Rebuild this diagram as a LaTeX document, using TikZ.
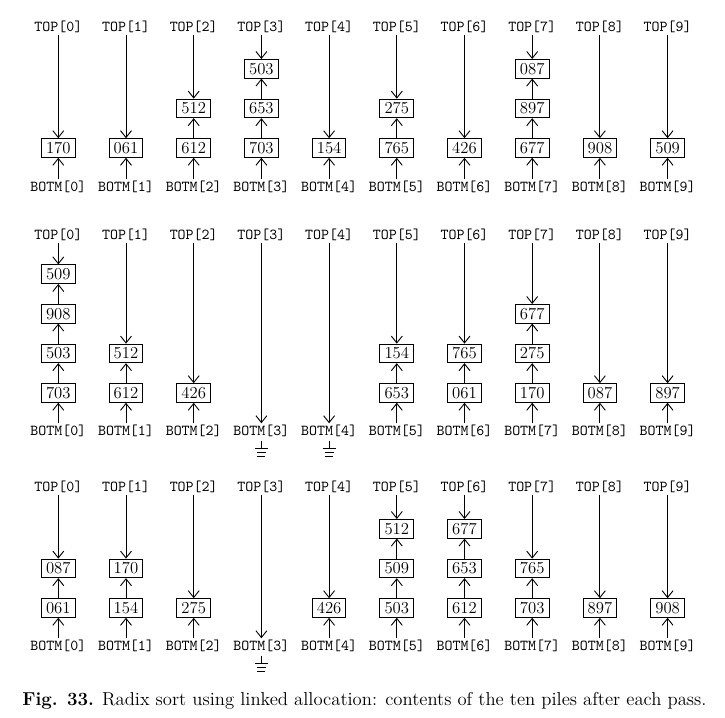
\documentclass[tikz,border=0pt]{standalone}
\usetikzlibrary{arrows.meta}
\tikzset{
  lbl/.style={font=\ttfamily, inner sep=1pt},
  item/.style={draw, line width=0.65pt, inner xsep=3pt, inner ysep=2.6pt,
    text height=7pt, text depth=0pt, font=\fontsize{11}{13}\selectfont\rmfamily},
  lnk/.style={line width=0.6pt, -{Straight Barb[length=4.5pt,width=7.2pt]}},
  gnd/.style={line width=0.6pt}
}
\begin{document}
\begin{tikzpicture}[x=0.658pt,y=-0.658pt]
\fill[white] (0,0) rectangle (725,718);
\useasboundingbox (0,0) rectangle (725,718);
% labels
\foreach \r/\ty/\by in {A/27/187, B/235/431, C/487/646}{
  \foreach \c in {0,...,9}{
    \pgfmathsetmacro\xx{58.3+67.7*\c}
    \node[lbl] (t-\r-\c) at (\xx,\ty) {TOP[\c]};
    \node[lbl] (b-\r-\c) at (\xx,\by) {BOTM[\c]};
  }
}
% piles (bottom to top)
\foreach \r/\ly/\data in {
  A/148/{0/{170},1/{061},2/{612,512},3/{703,653,503},4/{154},5/{765,275},6/{426},7/{677,897,087},8/{908},9/{509}},
  B/393/{0/{703,503,908,509},1/{612,512},2/{426},5/{653,154},6/{061,765},7/{170,275,677},8/{087},9/{897}},
  C/608/{0/{061,087},1/{154,170},2/{275},4/{426},5/{503,509,512},6/{612,653,677},7/{703,765},8/{897},9/{908}}}{
  \foreach \c/\items in \data {
    \pgfmathsetmacro\xx{58.3+67.7*\c}
    \foreach \v [count=\k] in \items {
      \pgfmathsetmacro\yy{\ly-39.6*(\k-1)}
      \node[item] (n-\r-\c-\k) at (\xx,\yy) {\v};
      \ifnum\k=1
        \draw[lnk] (b-\r-\c) -- (n-\r-\c-\k);
      \else
        \pgfmathtruncatemacro\pk{\k-1}
        \draw[lnk] (n-\r-\c-\pk) -- (n-\r-\c-\k);
      \fi
      \xdef\lastk{\k}
    }
    \draw[lnk] (t-\r-\c) -- (n-\r-\c-\lastk);
  }
}
% empty piles with ground
\foreach \r/\c in {B/3,B/4,C/3}{
  \draw[lnk] (t-\r-\c) -- (b-\r-\c);
  \draw[gnd] (b-\r-\c.south) ++(0,2) -- ++(0,8) coordinate (g-\r-\c);
  \draw[gnd] (g-\r-\c) ++(-6.5,0) -- ++(13,0);
  \draw[gnd] (g-\r-\c) ++(-4.5,4) -- ++(9,0);
  \draw[gnd] (g-\r-\c) ++(-4,8) -- ++(8,0);
}
% caption
\node[anchor=west, inner sep=0pt] (cap) at (22,701)
  {\fontsize{12.3}{14}\selectfont\textbf{Fig. 33.} Radix sort using linked allocation: contents of the ten piles after each pass.};
\end{tikzpicture}
\end{document}
